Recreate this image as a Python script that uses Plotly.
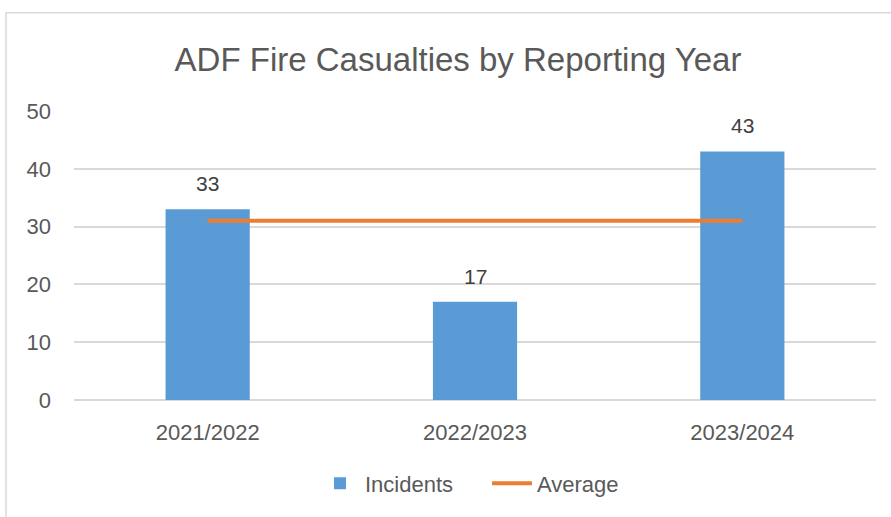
import plotly.graph_objects as go

categories = ["2021/2022", "2022/2023", "2023/2024"]
incidents = [33, 17, 43]
average = [31, 31, 31]
title = "ADF Fire Casualties by Reporting Year"

W, H = 891, 517
L, R, T, B = 74, 15, 111, 115
pw, ph = W - L - R, H - T - B

def px_x(x):
    return (x - L) / pw

def px_y(y):
    return (H - B - y) / ph

font = "Liberation Sans"
grey = "#595959"

fig = go.Figure()
fig.add_trace(go.Bar(x=categories, y=incidents, name="Incidents",
                     marker_color="#5B9BD5", marker_line_width=0))
fig.add_trace(go.Scatter(x=categories, y=average, name="Average", mode="lines",
                         line=dict(color="#ED7D31", width=4)))

for c, v in zip(categories, incidents):
    fig.add_annotation(x=c, y=v, text=str(v), showarrow=False, yanchor="bottom",
                       yshift=12, font=dict(size=21, color="#404040", family=font))

fig.add_shape(type="rect", xref="paper", yref="paper",
              x0=px_x(6), x1=px_x(W + 5), y0=px_y(H + 5), y1=px_y(12),
              line=dict(color="#D9D9D9", width=1.5), fillcolor="rgba(0,0,0,0)", layer="below")

fig.update_layout(
    width=W, height=H,
    margin=dict(l=L, r=R, t=T, b=B),
    paper_bgcolor="white", plot_bgcolor="white",
    title=dict(text=title, xref="container", x=458 / W, xanchor="center",
               yref="container", y=1 - 59 / H, yanchor="middle",
               font=dict(size=33, color=grey, family=font)),
    bargap=0.685,
    showlegend=True,
    legend=dict(orientation="h", x=px_x(487), xanchor="center", y=px_y(486), yanchor="middle",
                entrywidth=117, itemwidth=40,
                font=dict(size=22, color=grey, family=font)),
    xaxis=dict(showgrid=False, showline=False, ticks="", ticklabelstandoff=17,
               tickfont=dict(size=22, color=grey, family=font)),
    yaxis=dict(range=[0, 50], dtick=10, showgrid=True, gridcolor="#D9D9D9", gridwidth=1.5,
               zeroline=True, zerolinecolor="#D9D9D9", zerolinewidth=1.5,
               showline=False, ticks="", ticklabelstandoff=22,
               tickfont=dict(size=22, color=grey, family=font)),
)

fig.write_html("out.html", config={"displayModeBar": False},
               post_script="document.body.style.margin='0';document.body.style.overflow='hidden';")
